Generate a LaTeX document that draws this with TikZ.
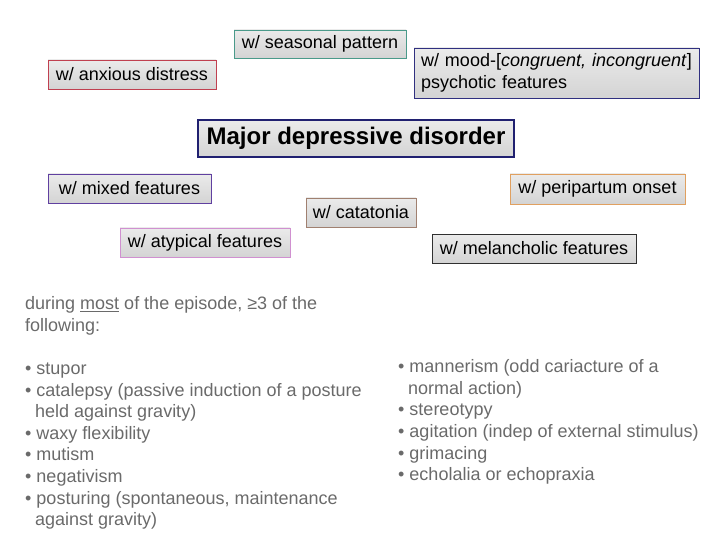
\documentclass[tikz,border=0pt]{standalone}
\usepackage{fontspec}
\setmainfont{Liberation Sans}
\definecolor{cteal}{HTML}{4A9A8A}
\definecolor{cred}{HTML}{C04050}
\definecolor{cnavy}{HTML}{303080}
\definecolor{cnavyd}{HTML}{202070}
\definecolor{cpurple}{HTML}{6040A0}
\definecolor{ctan}{HTML}{A08070}
\definecolor{cpink}{HTML}{D090D0}
\definecolor{corange}{HTML}{E0A060}
\definecolor{cdark}{HTML}{303030}
\definecolor{ctext}{HTML}{6A6A6A}
\tikzset{
  spec/.style={rectangle, inner sep=0pt, top color=gray!16, bottom color=gray!34, line width=0.9pt,
    font=\fontsize{18}{22}\selectfont, text=black},
  listtext/.style={inner sep=0pt, align=left, text=ctext, font=\fontsize{18}{21.6}\selectfont}
}
\begin{document}
\begin{tikzpicture}[x=1pt,y=-1pt]
\useasboundingbox (0,0) rectangle (720,540);
\node[spec, draw=cteal, minimum width=172pt, minimum height=28pt] (seasonal) at (320,44) {w/ seasonal pattern};
\node[spec, draw=cred, minimum width=168pt, minimum height=29pt] (anxious) at (132,74.5) {w/ anxious distress};
\node[spec, draw=cnavy, minimum width=285pt, minimum height=50pt, align=left, text width=271pt] (mood) at (556.5,73) {w/ mood-[\textit{congruent, incongruent}]\\psychotic features};
\node[spec, draw=cnavyd, line width=1.2pt, minimum width=316pt, minimum height=37pt, font=\fontsize{24}{28}\selectfont\bfseries] (mdd) at (356,138.5) {Major depressive disorder};
\node[spec, draw=cpurple, minimum width=163pt, minimum height=29pt] (mixed) at (129.5,188.5) {w/ mixed features};
\node[spec, draw=ctan, minimum width=110pt, minimum height=29pt] (catatonia) at (361,212.5) {w/ catatonia};
\node[spec, draw=cpink, minimum width=170pt, minimum height=29pt] (atypical) at (205,242.5) {w/ atypical features};
\node[spec, draw=corange, minimum width=175pt, minimum height=30pt] (peripartum) at (597.5,189) {w/ peripartum onset};
\node[spec, draw=cdark, minimum width=204pt, minimum height=29pt] (melancholic) at (534,248.5) {w/ melancholic features};
\node[listtext, anchor=north west] (leftlist) at (25,296.5) {during \underline{most} of the episode, ≥3 of the\\
following:\\
\mbox{}\\
• stupor\\
• catalepsy (passive induction of a posture\\
\hspace*{10pt}held against gravity)\\
• waxy flexibility\\
• mutism\\
• negativism\\
• posturing (spontaneous, maintenance\\
\hspace*{10pt}against gravity)};
\node[listtext, anchor=north west] (rightlist) at (398,359.5) {• mannerism (odd cariacture of a\\
\hspace*{10pt}normal action)\\
• stereotypy\\
• agitation (indep of external stimulus)\\
• grimacing\\
• echolalia or echopraxia};
\end{tikzpicture}
\end{document}
